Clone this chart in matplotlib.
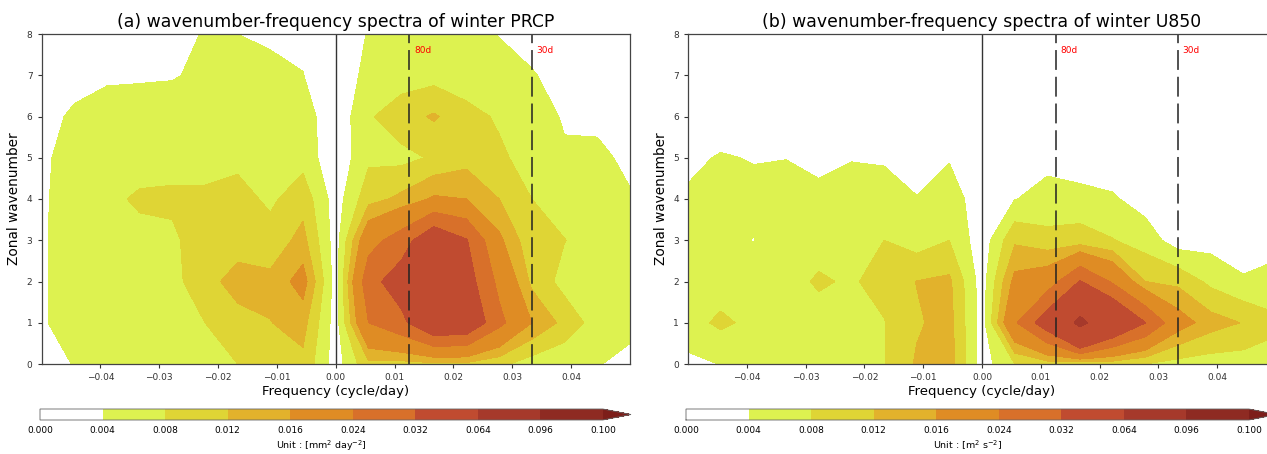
import numpy as np
import matplotlib
matplotlib.use("Agg")
import matplotlib.pyplot as plt
from matplotlib.colors import ListedColormap, BoundaryNorm

# ---------------- data ----------------
frequency = [-0.05, -0.04444, -0.03889, -0.03333, -0.02778, -0.02222, -0.01667, -0.01111, -0.00556,
             0.0, 0.00556, 0.01111, 0.01667, 0.02222, 0.02778, 0.03333, 0.03889, 0.04444, 0.05]
wavenumber = [0, 1, 2, 3, 4, 5, 6, 7, 8]

# rows = wavenumber 0..8, columns = frequency (-0.05 .. 0.05)
prcp_power = [
    [0.002, 0.0042, 0.005, 0.005, 0.006, 0.007, 0.008, 0.010, 0.011, 0.002, 0.011, 0.0105, 0.011, 0.011, 0.009, 0.006, 0.005, 0.0041, 0.0035],
    [0.0032, 0.0072, 0.0055, 0.006, 0.0065, 0.008, 0.010, 0.0119, 0.0135, 0.002, 0.024, 0.0297, 0.0414, 0.0403, 0.026, 0.016, 0.0107, 0.0061, 0.0045],
    [0.0032, 0.007, 0.006, 0.006, 0.007, 0.010, 0.0142, 0.013, 0.018, 0.002, 0.029, 0.0365, 0.050, 0.036, 0.022, 0.011, 0.0065, 0.0055, 0.0045],
    [0.0032, 0.0072, 0.006, 0.007, 0.0075, 0.0095, 0.0095, 0.0097, 0.0133, 0.002, 0.021, 0.0277, 0.0396, 0.0325, 0.017, 0.009, 0.0081, 0.006, 0.0045],
    [0.0032, 0.0065, 0.0072, 0.0085, 0.0085, 0.0085, 0.0095, 0.0072, 0.0105, 0.002, 0.0105, 0.013, 0.0167, 0.016, 0.012, 0.008, 0.006, 0.005, 0.0042],
    [0.0033, 0.0055, 0.006, 0.0065, 0.007, 0.007, 0.007, 0.0065, 0.0065, 0.001, 0.0072, 0.0068, 0.0085, 0.0105, 0.0088, 0.0062, 0.0045, 0.0045, 0.0035],
    [0.002, 0.0049, 0.006, 0.006, 0.006, 0.0065, 0.0065, 0.006, 0.006, 0.001, 0.0075, 0.0103, 0.0125, 0.0095, 0.0074, 0.0058, 0.0036, 0.0035, 0.003],
    [0.001, 0.002, 0.0033, 0.0035, 0.0037, 0.0048, 0.005, 0.0048, 0.0041, 0.0005, 0.0055, 0.006, 0.0065, 0.0055, 0.005, 0.0042, 0.003, 0.002, 0.002],
    [0.001, 0.0015, 0.0025, 0.0025, 0.003, 0.0042, 0.004, 0.0035, 0.003, 0.0005, 0.0043, 0.005, 0.005, 0.0048, 0.0039, 0.003, 0.002, 0.0015, 0.0015],
]

u850_power = [
    [0.003, 0.0041, 0.005, 0.005, 0.0055, 0.006, 0.0078, 0.0125, 0.014, 0.002, 0.008, 0.010, 0.0087, 0.0095, 0.008, 0.0065, 0.006, 0.006, 0.006],
    [0.0065, 0.0088, 0.007, 0.006, 0.0065, 0.0065, 0.0078, 0.0115, 0.0135, 0.002, 0.023, 0.0375, 0.070, 0.045, 0.0322, 0.0185, 0.0138, 0.0118, 0.009],
    [0.0055, 0.006, 0.006, 0.0065, 0.0085, 0.0075, 0.0095, 0.0121, 0.0128, 0.002, 0.0175, 0.0198, 0.0325, 0.023, 0.012, 0.011, 0.007, 0.0045, 0.005],
    [0.005, 0.0055, 0.0039, 0.006, 0.0065, 0.0065, 0.008, 0.0061, 0.008, 0.0015, 0.0113, 0.0095, 0.0095, 0.0082, 0.0061, 0.002, 0.0025, 0.0017, 0.003],
    [0.0045, 0.0055, 0.005, 0.006, 0.005, 0.0058, 0.006, 0.0041, 0.006, 0.0017, 0.0039, 0.005, 0.0058, 0.0045, 0.0023, 0.001, 0.001, 0.001, 0.001],
    [0.0032, 0.0043, 0.0038, 0.0039, 0.003, 0.0038, 0.0035, 0.003, 0.0037, 0.0005, 0.002, 0.0032, 0.001, 0.0015, 0.001, 0.001, 0.001, 0.001, 0.001],
    [0.002, 0.002, 0.002, 0.002, 0.002, 0.002, 0.002, 0.002, 0.002, 0.0005, 0.001, 0.001, 0.001, 0.001, 0.001, 0.001, 0.001, 0.001, 0.001],
    [0.001, 0.001, 0.001, 0.001, 0.001, 0.001, 0.001, 0.001, 0.001, 0.0005, 0.001, 0.001, 0.001, 0.001, 0.001, 0.001, 0.001, 0.001, 0.001],
    [0.001, 0.001, 0.001, 0.001, 0.001, 0.001, 0.001, 0.001, 0.001, 0.0005, 0.001, 0.001, 0.001, 0.001, 0.001, 0.001, 0.001, 0.001, 0.001],
]

levels = [0.000, 0.004, 0.008, 0.012, 0.016, 0.024, 0.032, 0.064, 0.096, 0.100]
level_labels = ["0.000", "0.004", "0.008", "0.012", "0.016", "0.024", "0.032", "0.064", "0.096", "0.100"]
band_colors = ["#ffffff", "#ddf250", "#dfd535", "#e2b22c", "#df8c24", "#d8702a", "#c04b30", "#a6392b", "#8e2a22"]
over_color = "#7d1e1a"

period_days = [80, 30]
period_labels = ["80d", "30d"]
xticks = [-0.04, -0.03, -0.02, -0.01, 0.00, 0.01, 0.02, 0.03, 0.04]

titles = ["(a) wavenumber-frequency spectra of winter PRCP",
          "(b) wavenumber-frequency spectra of winter U850"]
units = ["Unit : [mm$^2$ day$^{-2}$]", "Unit : [m$^2$ s$^{-2}$]"]

# ---------------- plotting ----------------
W, H = 1267, 454
fig = plt.figure(figsize=(W / 100, H / 100), dpi=100)

cmap = ListedColormap(band_colors)
cmap.set_over(over_color)
norm = BoundaryNorm(levels, cmap.N)

F, K = np.meshgrid(frequency, wavenumber)

def px(x0, y0, x1, y1):
    return [x0 / W, 1 - y1 / H, (x1 - x0) / W, (y1 - y0) / H]

ax_boxes = [px(41.5, 34, 630, 364), px(688, 34, 1276, 364)]
cb_boxes = [px(40, 409, 631, 420), px(686, 409, 1277, 420)]

for data, title, unit, axb, cbb in zip([prcp_power, u850_power], titles, units, ax_boxes, cb_boxes):
    ax = fig.add_axes(axb)
    Z = np.array(data)
    cf = ax.contourf(F, K, Z, levels=levels, cmap=cmap, norm=norm, extend="max")
    ax.axvline(0.0, color="#333333", lw=1.0)
    for p, lab in zip(period_days, period_labels):
        ax.axvline(1.0 / p, color="#222222", lw=1.1, ls=(0, (13, 4.5)))
        ax.text(1.0 / p + 0.0008, 7.55, lab, color="red", fontsize=6.5)
    ax.set_xlim(-0.05, 0.05)
    ax.set_ylim(0, 8)
    ax.set_xticks(xticks)
    ax.set_yticks(wavenumber)
    ax.tick_params(labelsize=6.5, length=3, width=0.8, colors="#333333")
    for s in ax.spines.values():
        s.set_color("#444444")
        s.set_linewidth(0.9)
    ax.set_title(title, fontsize=12.4, pad=5)
    ax.set_xlabel("Frequency (cycle/day)", fontsize=9.5, labelpad=2)
    ax.set_ylabel("Zonal wavenumber", fontsize=9.8, labelpad=4)

    cax = fig.add_axes(cbb)
    cb = fig.colorbar(cf, cax=cax, orientation="horizontal", ticks=levels, spacing="uniform")
    cb.ax.set_xticklabels(level_labels)
    cb.ax.tick_params(labelsize=6.5, length=0, pad=4)
    cb.outline.set_linewidth(0.6)
    cb.outline.set_edgecolor("#666666")
    cb.set_label(unit, fontsize=6.8, labelpad=3)

fig.savefig("out.png", dpi=100)
